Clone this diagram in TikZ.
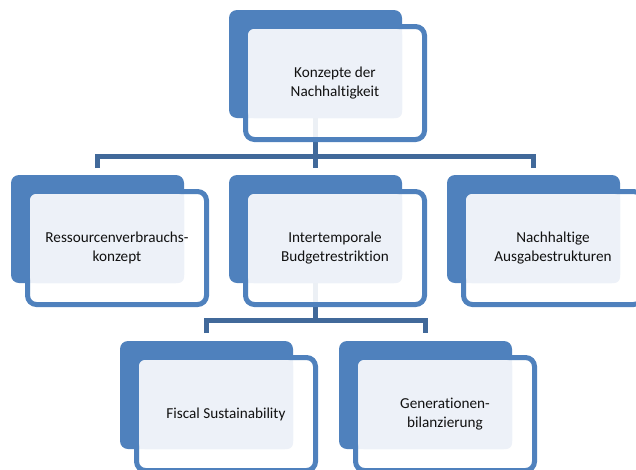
\documentclass[tikz,border=0pt]{standalone}
\usepackage{fontspec}
\setmainfont{Carlito}[Ligatures={NoCommon,NoContextual}]
\definecolor{boxblue}{HTML}{4F81BD}
\definecolor{linkblue}{HTML}{41699A}
\definecolor{paleblue}{HTML}{EDF1F8}
\definecolor{txt}{HTML}{111111}
\tikzset{
  backbox/.style={fill=boxblue, rounded corners=8pt, minimum width=173pt, minimum height=108pt, inner sep=0pt, outer sep=0pt, anchor=north west},
  frontbox/.style={draw=boxblue, line width=5pt, fill=white, fill opacity=0.9, draw opacity=1, rounded corners=9pt, minimum width=179pt, minimum height=113pt, inner sep=0pt, outer sep=0pt},
  palebox/.style={fill=paleblue, rounded corners=6pt},
  label/.style={align=center, text=txt, font=\fontsize{15.2}{19}\selectfont, inner sep=0pt},
  link/.style={draw=linkblue, line width=5pt}
}
\newcommand{\mkunit}[4]{%
  \node[backbox] (#1-back) at (#2,#3) {};
  \node[frontbox] (#1-front) at (#2+106,#3+73) {};
  \fill[palebox] (#2+19,#3+19) rectangle (#2+173,#3+108);
  \node[label] (#1) at (#2+106,#3+73) {#4};
}
\begin{document}
\begin{tikzpicture}[x=1pt,y=-1pt]
\useasboundingbox (0,0) rectangle (636,469);
\clip (0,0) rectangle (636,469);
% connectors (behind boxes)
\coordinate (bus1) at (315.5,156);
\coordinate (bus2) at (315.5,320);
\coordinate (d1) at (97.5,168);
\coordinate (d2) at (315.5,168);
\coordinate (d3) at (533.5,168);
\coordinate (e1) at (206.5,333);
\coordinate (e2) at (425.5,333);
\coordinate (t1) at (315.5,117);
\coordinate (t2) at (315.5,283);
\draw[link] (t1) -- (bus1);
\draw[link] (d1) -- (d1 |- bus1) -- (d3 |- bus1) -- (d3);
\draw[link] (bus1) -- (d2);
\draw[link] (t2) -- (bus2);
\draw[link] (e1) -- (e1 |- bus2) -- (e2 |- bus2) -- (e2);
% boxes
\mkunit{top}{229}{10}{Konzepte der\\Nachhaltigkeit}
\mkunit{res}{11}{175}{Ressourcenverbrauchs-\\konzept}
\mkunit{itb}{229}{175}{Intertemporale\\Budgetrestriktion}
\mkunit{nas}{447}{175}{Nachhaltige\\Ausgabestrukturen}
\mkunit{fis}{120}{341}{Fiscal Sustainability}
\mkunit{gen}{339}{341}{Generationen-\\bilanzierung}
\end{tikzpicture}
\end{document}
